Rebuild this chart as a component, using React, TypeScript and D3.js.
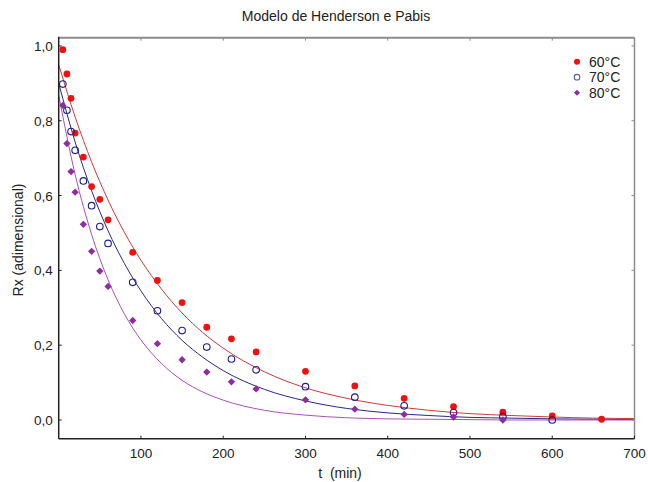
import React, { useEffect, useRef } from "react";
import * as d3 from "d3";

// observed points (t in min, Rx)
const times60 = [5, 10, 15, 20, 30, 40, 50, 60, 90, 120, 150, 180, 210, 240, 300, 360, 420, 480, 540, 600, 660];
const rx60 = [0.99, 0.925, 0.86, 0.767, 0.703, 0.624, 0.59, 0.535, 0.448, 0.373, 0.314, 0.248, 0.217, 0.182, 0.13, 0.091, 0.058, 0.036, 0.021, 0.011, 0.002];

const times70 = [5, 10, 15, 20, 30, 40, 50, 60, 90, 120, 150, 180, 210, 240, 300, 360, 420, 480, 540, 600];
const rx70 = [0.898, 0.828, 0.771, 0.721, 0.639, 0.573, 0.517, 0.472, 0.368, 0.292, 0.239, 0.195, 0.163, 0.134, 0.089, 0.061, 0.038, 0.02, 0.009, 0.0];

const times80 = [5, 10, 15, 20, 30, 40, 50, 60, 90, 120, 150, 180, 210, 240, 300, 360, 420, 480, 540];
const rx80 = [0.841, 0.739, 0.664, 0.609, 0.523, 0.451, 0.398, 0.357, 0.266, 0.204, 0.161, 0.128, 0.102, 0.083, 0.054, 0.029, 0.015, 0.008, 0.0];

// fitted model curves
const curveTimes = [0, 20, 40, 60, 80, 100, 125, 150, 175, 200, 250, 300, 350, 400, 450, 500, 550, 600, 650, 700];
const fit60 = [0.95, 0.81, 0.69, 0.588, 0.501, 0.427, 0.35, 0.286, 0.234, 0.192, 0.129, 0.086, 0.058, 0.039, 0.026, 0.017, 0.012, 0.008, 0.005, 0.004];
const fit70 = [0.9, 0.743, 0.613, 0.506, 0.418, 0.345, 0.271, 0.213, 0.168, 0.132, 0.082, 0.051, 0.031, 0.019, 0.012, 0.007, 0.005, 0.003, 0.002, 0.001];
const fit80 = [0.868, 0.656, 0.496, 0.375, 0.283, 0.214, 0.151, 0.106, 0.075, 0.053, 0.026, 0.013, 0.006, 0.003, 0.002, 0.001, 0.0, 0.0, 0.0, 0.0];

const xTicks = [100, 200, 300, 400, 500, 600, 700];
const yTicks = [0, 0.2, 0.4, 0.6, 0.8, 1.0];
const seriesNames = ["60°C", "70°C", "80°C"];

const W = 648;
const H = 482;

export default function App() {
  const svgRef = useRef<SVGSVGElement | null>(null);

  useEffect(() => {
    const svg = d3.select(svgRef.current);
    svg.selectAll("*").remove();

    const left = 58.7, right = 634.5, top = 37.7, bottom = 438.7;
    const x = d3.scaleLinear().domain([0, 700]).range([left, right]);
    const y = d3.scaleLinear().domain([-0.05, 1.022]).range([bottom, top]);
    const font = "'Liberation Sans', Arial, sans-serif";

    svg.append("rect").attr("width", W).attr("height", H).attr("fill", "#fff");

    // title
    svg.append("text")
      .attr("x", 336).attr("y", 21)
      .attr("text-anchor", "middle")
      .style("font-family", font).style("font-size", "14px").attr("fill", "#222")
      .text("Modelo de Henderson e Pabis");

    // model lines
    const line = d3.line<number>()
      .x((_, i) => x(curveTimes[i]))
      .y((d) => y(d))
      .curve(d3.curveMonotoneX);

    const fits = [
      { data: fit60, color: "#cc3b3b" },
      { data: fit70, color: "#28288a" },
      { data: fit80, color: "#a653b6" },
    ];
    svg.append("clipPath").attr("id", "plotclip")
      .append("rect").attr("x", left).attr("y", top).attr("width", right - left).attr("height", bottom - top);
    fits.forEach((f) => {
      svg.append("path")
        .attr("d", line(f.data))
        .attr("clip-path", "url(#plotclip)")
        .attr("fill", "none")
        .attr("stroke", f.color)
        .attr("stroke-width", 1);
    });

    // frame: top and right lighter
    svg.append("line").attr("x1", left).attr("x2", right).attr("y1", top).attr("y2", top)
      .attr("stroke", "#8c8c8c").attr("stroke-width", 2);
    svg.append("line").attr("x1", right).attr("x2", right).attr("y1", top).attr("y2", bottom)
      .attr("stroke", "#8c8c8c").attr("stroke-width", 1.5);
    svg.append("line").attr("x1", left).attr("x2", left).attr("y1", top - 1).attr("y2", bottom)
      .attr("stroke", "#222").attr("stroke-width", 1.5);
    svg.append("line").attr("x1", left).attr("x2", right).attr("y1", bottom).attr("y2", bottom)
      .attr("stroke", "#222").attr("stroke-width", 1.5);

    // x ticks (inward) and labels
    xTicks.forEach((t) => {
      svg.append("line").attr("x1", x(t)).attr("x2", x(t)).attr("y1", bottom).attr("y2", bottom - 3)
        .attr("stroke", "#222");
      svg.append("line").attr("x1", x(t)).attr("x2", x(t)).attr("y1", top).attr("y2", top + 3)
        .attr("stroke", "#8c8c8c");
      svg.append("text")
        .attr("x", x(t)).attr("y", bottom + 19)
        .attr("text-anchor", "middle")
        .style("font-family", font).style("font-size", "13.5px").attr("fill", "#222")
        .text(String(t));
    });

    // y ticks and labels
    yTicks.forEach((v) => {
      svg.append("line").attr("x1", left).attr("x2", left + 3).attr("y1", y(v)).attr("y2", y(v))
        .attr("stroke", "#222");
      svg.append("line").attr("x1", right).attr("x2", right - 3).attr("y1", y(v)).attr("y2", y(v))
        .attr("stroke", "#8c8c8c");
      svg.append("text")
        .attr("x", left - 6).attr("y", y(v) + 5)
        .attr("text-anchor", "end")
        .style("font-family", font).style("font-size", "13.5px").attr("fill", "#222")
        .text(v.toFixed(1).replace(".", ","));
    });

    // axis titles
    svg.append("text")
      .attr("x", 340).attr("y", 478)
      .attr("text-anchor", "middle")
      .style("font-family", font).style("font-size", "14px").attr("fill", "#222")
      .attr("xml:space", "preserve")
      .text("t  (min)");
    svg.append("text")
      .attr("transform", `translate(23,240) rotate(-90)`)
      .attr("text-anchor", "middle")
      .style("font-family", font).style("font-size", "14px").attr("fill", "#222")
      .text("Rx (adimensional)");

    // points
    const g60 = svg.append("g");
    times60.forEach((t, i) => {
      g60.append("circle").attr("cx", x(t)).attr("cy", y(rx60[i])).attr("r", 3.4).attr("fill", "#ee1111");
    });
    const g70 = svg.append("g");
    times70.forEach((t, i) => {
      g70.append("circle").attr("cx", x(t)).attr("cy", y(rx70[i])).attr("r", 3.3)
        .attr("fill", "none").attr("stroke", "#1c1c8c").attr("stroke-width", 1.1);
    });
    const diamond = d3.symbol().type(d3.symbolDiamond2).size(34);
    const g80 = svg.append("g");
    times80.forEach((t, i) => {
      g80.append("path").attr("d", diamond()).attr("transform", `translate(${x(t)},${y(rx80[i])})`)
        .attr("fill", "#8f2d9e");
    });

    // legend
    const lg = svg.append("g");
    seriesNames.forEach((name, i) => {
      const ly = 61.7 + i * 15.5;
      if (i === 0) lg.append("circle").attr("cx", 577).attr("cy", ly).attr("r", 3).attr("fill", "#ee1111");
      if (i === 1) lg.append("circle").attr("cx", 577).attr("cy", ly).attr("r", 2.8)
        .attr("fill", "none").attr("stroke", "#5a5aa0").attr("stroke-width", 1.1);
      if (i === 2) lg.append("path").attr("d", d3.symbol().type(d3.symbolDiamond2).size(24)())
        .attr("transform", `translate(577,${ly})`).attr("fill", "#8f2d9e");
      lg.append("text")
        .attr("x", 589).attr("y", ly + 5)
        .style("font-family", font).style("font-size", "14px").attr("fill", "#222")
        .text(name);
    });
  }, []);

  return (
    <div style={{ position: "absolute", left: 0, top: 0 }}>
      <svg ref={svgRef} width={W} height={H} style={{ display: "block" }}></svg>
    </div>
  );
}
